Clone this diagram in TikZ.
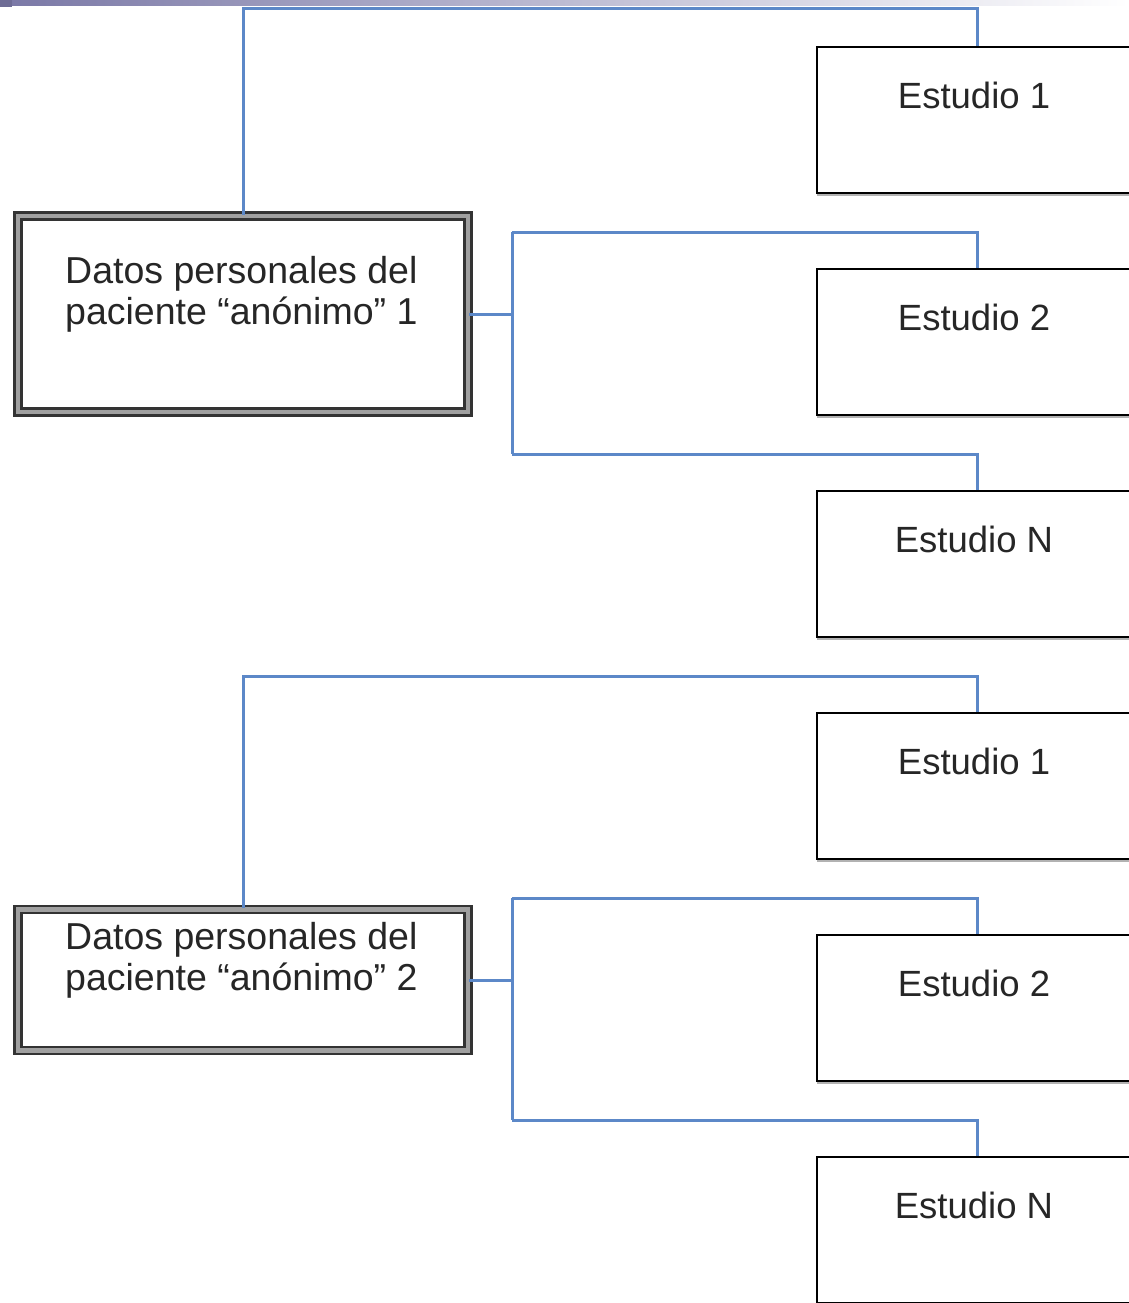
\documentclass[tikz,border=0pt]{standalone}
\usepackage{fontspec}
\setmainfont{Liberation Sans}
\usetikzlibrary{shadows}

\definecolor{linkblue}{RGB}{92,136,200}
\definecolor{barleft}{RGB}{122,120,166}
\definecolor{bandgray}{RGB}{160,160,160}

\begin{document}
\begin{tikzpicture}[x=1pt, y=-1pt,
    patient/.style={draw=black!80, line width=2.5pt, double=bandgray, double distance=4.5pt,
        fill=white, minimum width=450pt, minimum height=#1, inner sep=0pt},
    ptext/.style={font=\fontsize{37.5}{41}\selectfont, text=black!85, align=left, inner sep=0pt},
    stext/.style={font=\fontsize{36.5}{41}\selectfont, text=black!85, inner sep=0pt},
    study/.style={draw=black, line width=2.5pt, fill=white, minimum width=320pt, minimum height=146pt,
        drop shadow={shadow xshift=0pt, shadow yshift=-3pt, fill=black!30, opacity=1},
        label={[stext, anchor=base, xshift=-3pt, yshift=-63pt]north:#1}},
    link/.style={draw=linkblue, line width=3pt}
]
    
    % Page frame
    \useasboundingbox (0,0) rectangle (1129,1303);
    \clip (0,0) rectangle (1129,1303);

    % Title bar at the top
    \shade[left color=barleft, right color=white] (0,0) rectangle (1129,6);
    \fill[barleft!90!black] (0,0) rectangle (12,7);

    % Patient 1 and its studies
    \node[patient=196pt] (p1) at (243,314) {};
    \node[ptext, anchor=north west] (p1t) at (65,256) {Datos personales del\\paciente “anónimo” 1};
    \node[study=Estudio 1] (e11) at (977,120) {};
    \node[study=Estudio 2] (e12) at (977,342) {};
    \node[study=Estudio N] (e13) at (977,564) {};

    % Patient 2 and its studies
    \node[patient=141pt] (p2) at (243,980) {};
    \node[ptext, anchor=north west] (p2t) at (65,922) {Datos personales del\\paciente “anónimo” 2};
    \node[study=Estudio 1] (e21) at (977,786) {};
    \node[study=Estudio 2] (e22) at (977,1008) {};
    \node[study=Estudio N] (e23) at (977,1230) {};

    % Links of patient 1
    \coordinate (top1) at (977,9);
    \coordinate (f1a) at (512,232);
    \coordinate (f1b) at (512,454);
    \draw[link] (p1.north) |- (top1) -- (e11.north);
    \draw[link] (p1.east) -- (p1.east -| f1a);
    \draw[link] (f1a) -- (f1b);
    \draw[link] (f1a) -| (e12.north);
    \draw[link] (f1b) -| (e13.north);

    % Links of patient 2
    \coordinate (top2) at (977,676);
    \coordinate (f2a) at (512,898);
    \coordinate (f2b) at (512,1120);
    \draw[link] (p2.north) |- (top2) -- (e21.north);
    \draw[link] (p2.east) -- (p2.east -| f2a);
    \draw[link] (f2a) -- (f2b);
    \draw[link] (f2a) -| (e22.north);
    \draw[link] (f2b) -| (e23.north);

\end{tikzpicture}
\end{document}
